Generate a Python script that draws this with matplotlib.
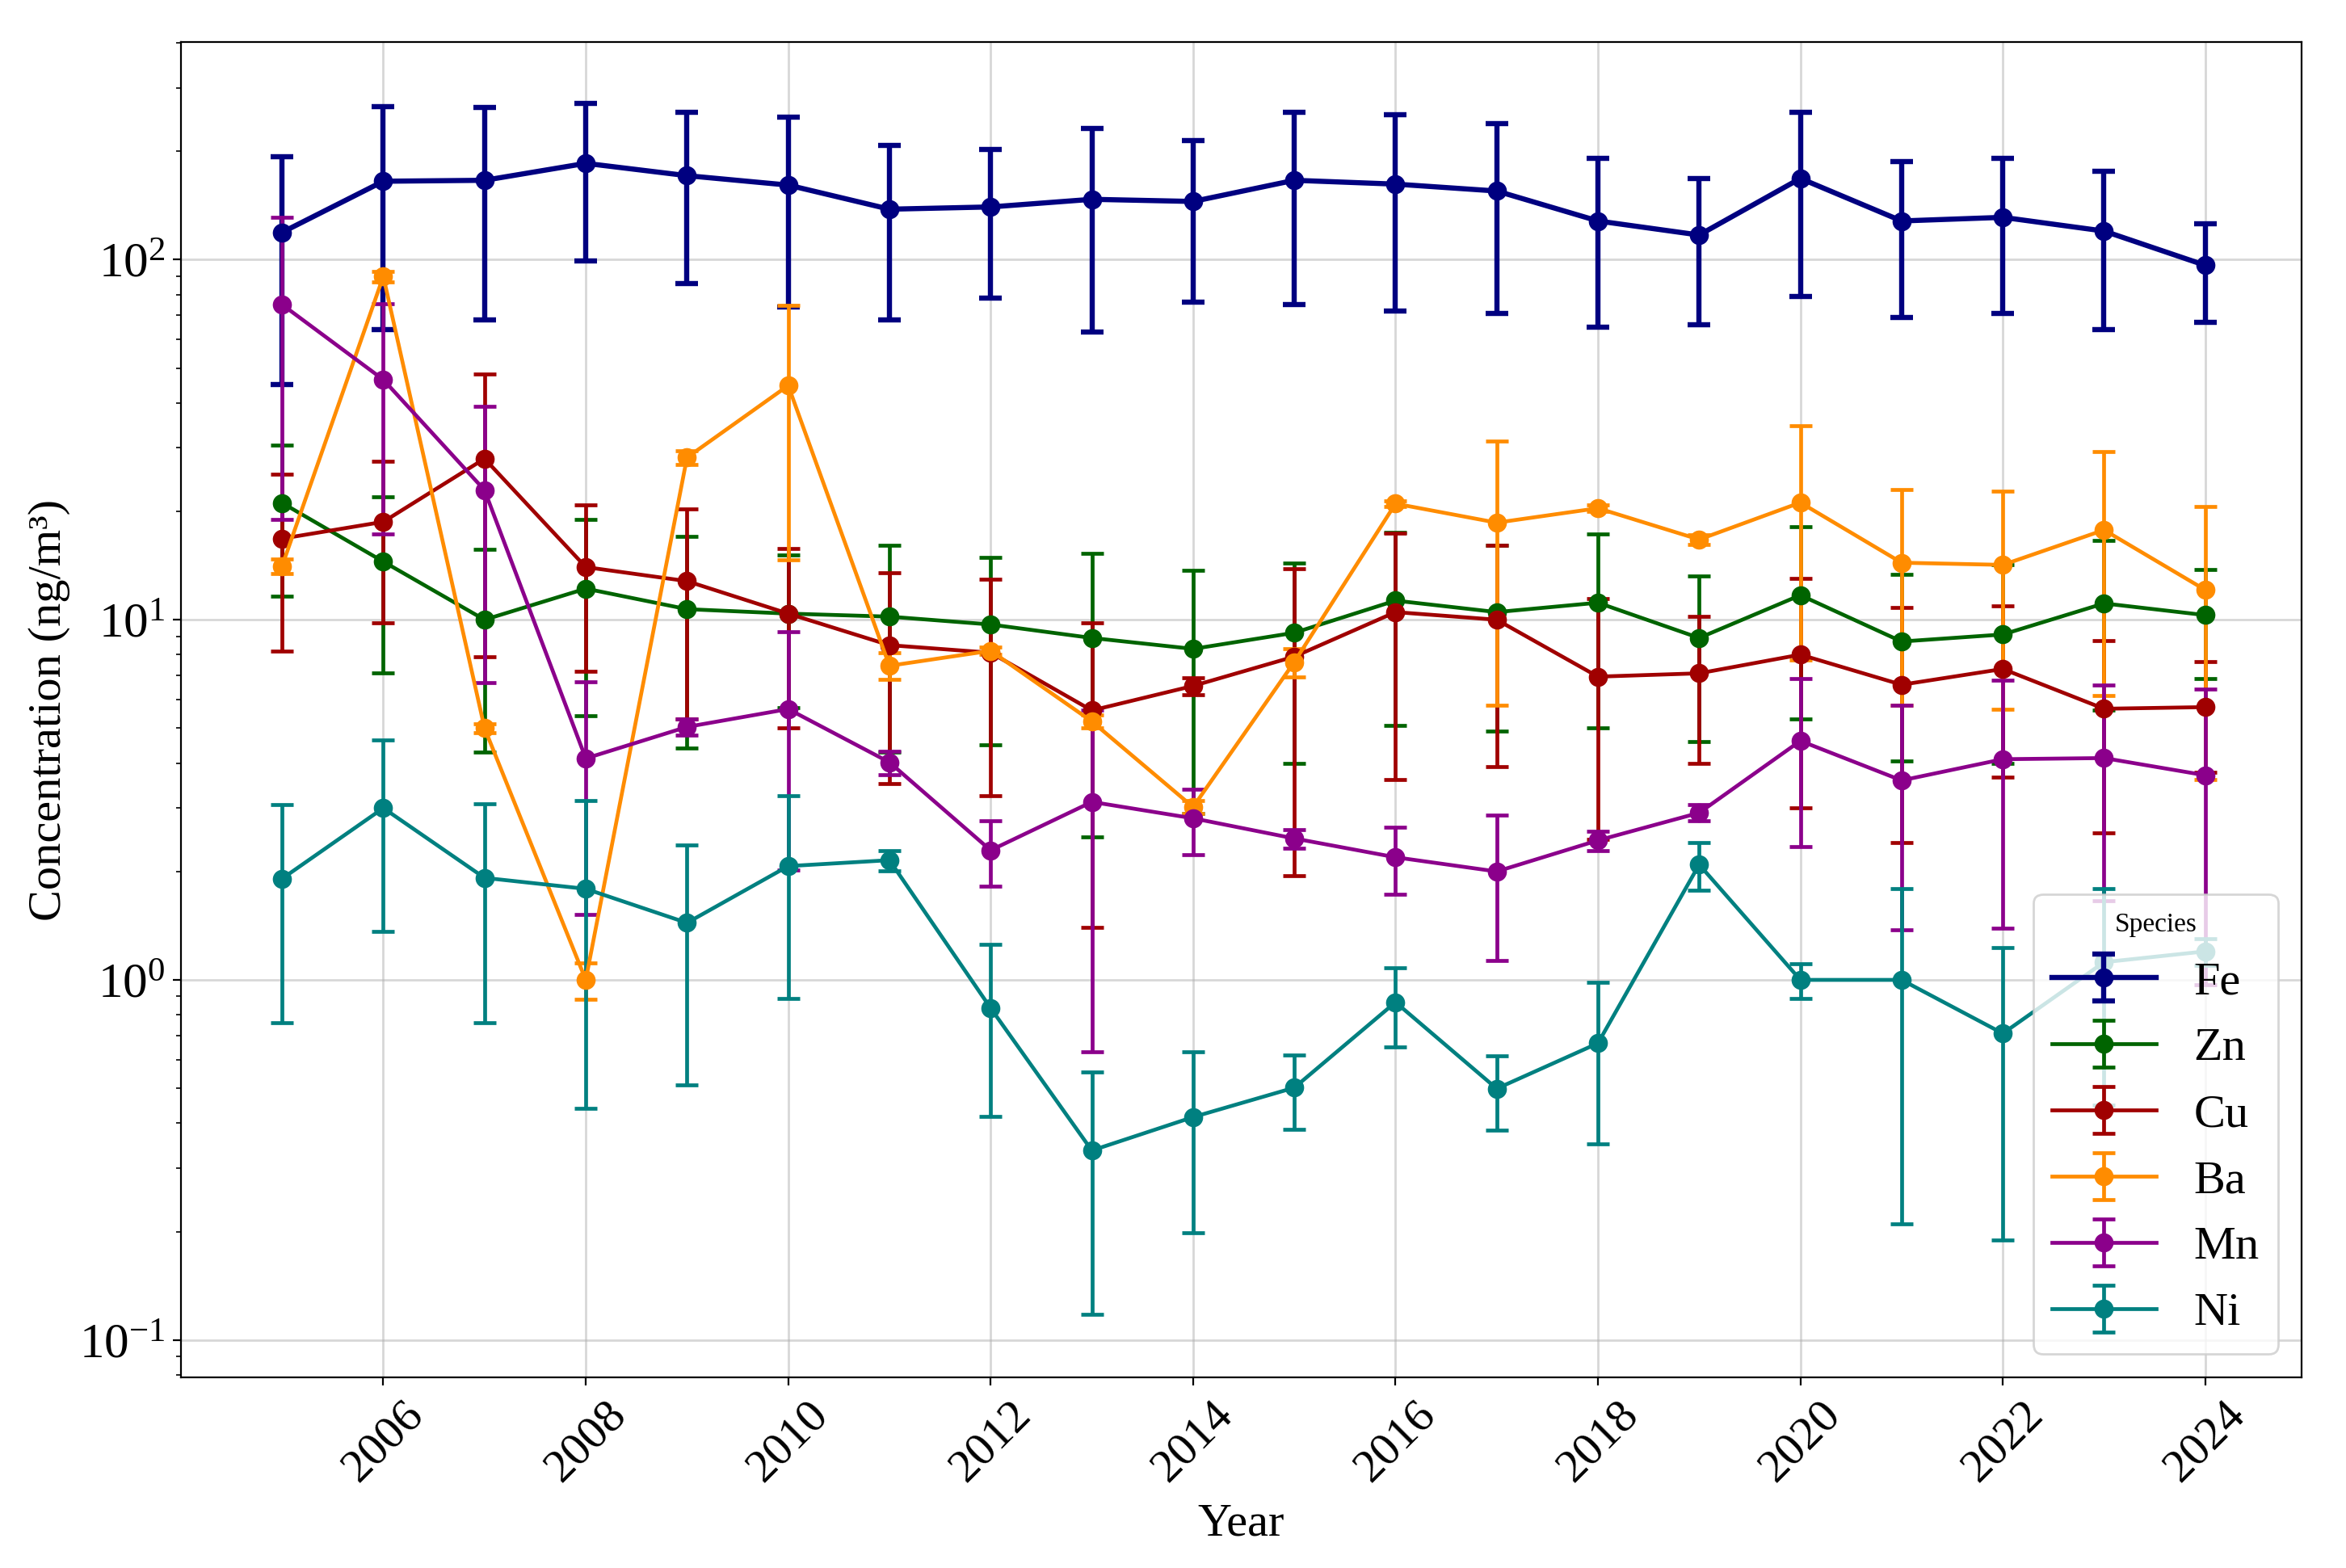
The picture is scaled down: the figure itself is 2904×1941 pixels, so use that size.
import matplotlib
matplotlib.use("Agg")  # no display needed
import matplotlib.pyplot as plt

plt.rcParams["font.family"] = ["Liberation Serif", "DejaVu Serif"]
plt.rcParams["mathtext.fontset"] = "stix"

years = list(range(2005, 2025))

# yearly mean and standard deviation, ng/m3
fe_mean = [119, 165, 166, 185, 171, 161, 138, 140, 147, 145, 166, 162, 155, 128, 117, 168, 128, 131, 120, 96.4]
fe_sd   = [74, 101, 98, 86, 85, 87, 70, 62, 84, 69, 91, 90, 84, 63, 51, 89, 59, 60, 56, 29.5]

zn_mean = [21.1, 14.5, 10.0, 12.2, 10.7, 10.4, 10.2, 9.7, 8.9, 8.3, 9.2, 11.3, 10.5, 11.15, 8.9, 11.7, 8.7, 9.1, 11.1, 10.3]
zn_sd   = [9.5, 7.4, 5.7, 6.8, 6.3, 4.7, 5.9, 5.2, 6.4, 5.4, 5.2, 6.2, 5.6, 6.15, 4.3, 6.4, 4.65, 5.1, 5.5, 3.45]

cu_mean = [16.8, 18.7, 28.0, 14.0, 12.8, 10.4, 8.5, 8.1, 5.6, 6.55, 7.9, 10.5, 10.0, 6.95, 7.1, 8.0, 6.6, 7.3, 5.66, 5.72]
cu_sd   = [8.6, 8.9, 20.1, 6.8, 7.5, 5.4, 5.0, 4.85, 4.2, 0.35, 5.95, 6.9, 6.1, 4.5, 3.1, 5.0, 4.2, 3.65, 3.1, 1.94]

ba_mean = [14.1, 89.8, 5.0, 1.0, 28.2, 44.7, 7.45, 8.2, 5.22, 3.02, 7.63, 21.0, 18.6, 20.4, 16.7, 21.15, 14.4, 14.2, 17.75, 12.1]
ba_sd   = [0.65, 3.0, 0.15, 0.115, 1.25, 30.0, 0.63, 0.2, 0.22, 0.12, 0.7, 0.4, 12.8, 0.4, 0.55, 13.4, 8.6, 8.55, 11.6, 8.5]

mn_mean = [75, 46.4, 22.9, 4.12, 5.04, 5.65, 4.02, 2.29, 3.12, 2.81, 2.47, 2.19, 2.0, 2.44, 2.91, 4.61, 3.58, 4.1, 4.13, 3.7]
mn_sd   = [56, 29.1, 16.2, 2.6, 0.25, 3.63, 0.3, 0.47, 2.49, 0.58, 0.15, 0.46, 0.87, 0.15, 0.15, 2.26, 2.2, 2.71, 2.47, 2.73]

ni_mean = [1.91, 3.0, 1.92, 1.79, 1.44, 2.07, 2.15, 0.835, 0.336, 0.416, 0.502, 0.867, 0.499, 0.667, 2.09, 1.0, 1.0, 0.71, 1.12, 1.2]
ni_sd   = [1.15, 1.64, 1.16, 1.35, 0.93, 1.18, 0.14, 0.417, 0.218, 0.217, 0.117, 0.214, 0.117, 0.317, 0.315, 0.11, 0.79, 0.52, 0.67, 0.1]

species = ["Fe", "Zn", "Cu", "Ba", "Mn", "Ni"]
means   = [fe_mean, zn_mean, cu_mean, ba_mean, mn_mean, ni_mean]
sds     = [fe_sd, zn_sd, cu_sd, ba_sd, mn_sd, ni_sd]
colours = ["#000080", "#006400", "#a00000", "#ff8c00", "#8b008b", "#008080"]

fig, ax = plt.subplots(figsize=(14.52, 9.705), dpi=200)

for name, m, s, col in zip(species, means, sds, colours):
    lw = 2.3 if name == "Fe" else 1.7
    ax.errorbar(years, m, yerr=s, label=name, color=col, marker="o",
                markersize=7.5, linewidth=lw, elinewidth=lw,
                capsize=5, capthick=lw)

ax.set_yscale("log")
ax.set_xlim(2004.0, 2024.95)
ax.set_ylim(0.0788, 401)
ax.set_xticks(range(2006, 2025, 2))
ax.tick_params(axis="x", labelrotation=45, labelsize=21)
ax.tick_params(axis="y", labelsize=22)
ax.grid(True, which="major", color="#b0b0b0", alpha=0.5, linewidth=1.0)

ax.set_xlabel("Year", fontsize=21, labelpad=6)
ax.set_ylabel("Concentration (ng/m³)", fontsize=21)

ax.legend(title="Species", loc="lower right", fontsize=21,
          title_fontsize=12, handlelength=2.2)

fig.subplots_adjust(left=0.0771, right=0.981, top=0.973, bottom=0.1216)
fig.savefig("out.png", dpi=200)
plt.close(fig)
